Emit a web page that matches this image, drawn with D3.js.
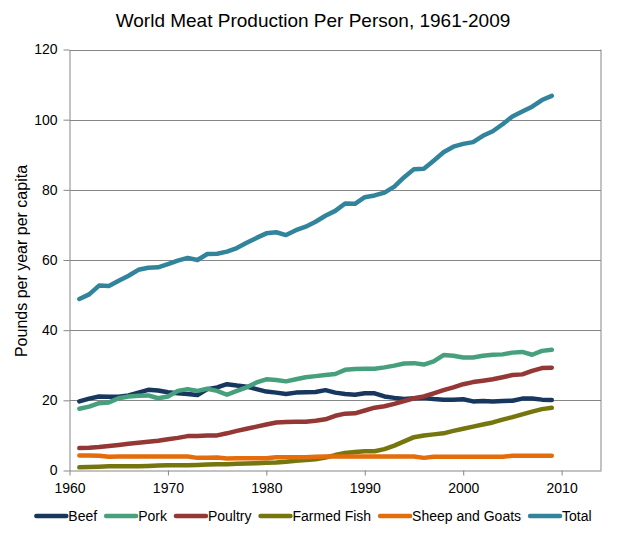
<!DOCTYPE html>
<html>
<head>
<meta charset="utf-8">
<script src="https://cdn.jsdelivr.net/npm/d3@7"></script>
<style>
	body { margin: 0; background: #fff; }
	svg { display: block; font-family: 'Liberation Sans', Arial, sans-serif; }
	.grid line { stroke: #868686; stroke-width: 1; }
	.axis path, .axis line { stroke: #868686; }
	.axis text { fill: #000; font-size: 14px; font-family: 'Liberation Sans', Arial, sans-serif; }
	.series { fill: none; stroke-width: 4.5; stroke-linejoin: round; stroke-linecap: round; }
</style>
</head>
<body>
<svg id="chart" width="624" height="535"></svg>
<script>
var years = [1961, 1962, 1963, 1964, 1965, 1966, 1967, 1968, 1969, 1970,
	1971, 1972, 1973, 1974, 1975, 1976, 1977, 1978, 1979, 1980,
	1981, 1982, 1983, 1984, 1985, 1986, 1987, 1988, 1989, 1990,
	1991, 1992, 1993, 1994, 1995, 1996, 1997, 1998, 1999, 2000,
	2001, 2002, 2003, 2004, 2005, 2006, 2007, 2008, 2009];

var beef = [19.7, 20.5, 21.1, 21.0, 21.0, 21.4, 22.2, 23.0, 22.8, 22.3,
	22.0, 21.8, 21.5, 23.2, 23.7, 24.6, 24.2, 23.9, 23.2, 22.5,
	22.2, 21.8, 22.2, 22.3, 22.4, 22.9, 22.2, 21.8, 21.6, 22.0,
	22.0, 21.1, 20.7, 20.4, 20.6, 20.7, 20.4, 20.2, 20.2, 20.3,
	19.7, 19.8, 19.7, 19.8, 19.9, 20.5, 20.5, 20.2, 20.1];

var pork = [17.6, 18.2, 19.2, 19.4, 20.6, 21.1, 21.3, 21.4, 20.6, 21.1,
	22.7, 23.2, 22.7, 23.3, 22.7, 21.6, 22.7, 23.7, 25.1, 26.0,
	25.8, 25.4, 26.0, 26.6, 26.9, 27.2, 27.5, 28.7, 28.9, 29.0,
	29.0, 29.4, 29.9, 30.5, 30.6, 30.2, 31.1, 32.9, 32.7, 32.2,
	32.2, 32.7, 33.0, 33.1, 33.6, 33.8, 33.0, 34.1, 34.4];

var poultry = [6.4, 6.5, 6.7, 7.0, 7.3, 7.6, 7.9, 8.2, 8.5, 8.9,
	9.3, 9.8, 9.8, 10.0, 10.0, 10.6, 11.3, 11.9, 12.5, 13.1,
	13.7, 13.8, 13.9, 13.9, 14.2, 14.6, 15.6, 16.2, 16.3, 17.1,
	17.9, 18.3, 19.0, 19.8, 20.6, 21.1, 22.0, 22.9, 23.7, 24.6,
	25.2, 25.6, 26.0, 26.6, 27.2, 27.4, 28.4, 29.2, 29.3];

var farmedFish = [0.9, 1.0, 1.1, 1.2, 1.2, 1.2, 1.2, 1.3, 1.4, 1.5,
	1.5, 1.5, 1.6, 1.7, 1.8, 1.8, 1.9, 2.0, 2.1, 2.2,
	2.3, 2.5, 2.8, 3.0, 3.2, 3.7, 4.4, 5.0, 5.3, 5.5,
	5.5, 6.1, 7.1, 8.3, 9.5, 10.0, 10.3, 10.6, 11.3, 11.9,
	12.5, 13.1, 13.7, 14.5, 15.2, 16.0, 16.8, 17.5, 17.9];

var sheepGoats = [4.3, 4.3, 4.2, 3.9, 4.0, 4.0, 4.0, 4.0, 4.0, 4.0,
	4.0, 4.0, 3.6, 3.6, 3.7, 3.4, 3.5, 3.5, 3.5, 3.5,
	3.8, 3.8, 3.8, 3.8, 3.9, 4.0, 4.0, 4.0, 4.0, 4.0,
	4.0, 4.0, 4.0, 4.0, 4.0, 3.6, 3.9, 3.9, 3.9, 3.9,
	3.9, 3.9, 3.9, 3.9, 4.2, 4.2, 4.2, 4.2, 4.2];

var total = [48.9, 50.2, 52.7, 52.6, 54.1, 55.5, 57.2, 57.8, 57.9, 58.8,
	59.8, 60.6, 60.0, 61.7, 61.8, 62.4, 63.4, 64.9, 66.3, 67.6,
	67.9, 67.1, 68.5, 69.5, 70.9, 72.6, 74.0, 76.1, 76.0, 77.9,
	78.4, 79.2, 80.9, 83.6, 85.9, 86.0, 88.3, 90.7, 92.3, 93.1,
	93.6, 95.4, 96.7, 98.7, 100.9, 102.3, 103.7, 105.6, 106.8];

var seriesNames = ['Beef', 'Pork', 'Poultry', 'Farmed Fish', 'Sheep and Goats', 'Total'];
var seriesValues = [beef, pork, poultry, farmedFish, sheepGoats, total];
var seriesColors = ['#17375e', '#47a07d', '#953735', '#76760f', '#e46c0a', '#31849b'];

var xTicks = [1960, 1970, 1980, 1990, 2000, 2010];
var yTicks = [0, 20, 40, 60, 80, 100, 120];

var chartTitle = 'World Meat Production Per Person, 1961-2009';
var yTitle = 'Pounds per year per capita';

var plot = {left: 69.5, right: 601, top: 49.5, bottom: 470.5};

var svg = d3.select('#chart');

var x = d3.scaleLinear().domain([1960, 2014]).range([plot.left, plot.right]);
var y = d3.scaleLinear().domain([0, 120]).range([plot.bottom, plot.top]);

//horizontal gridlines
svg.append('g')
	.attr('class', 'grid')
	.selectAll('line')
	.data(yTicks.slice(1))
	.enter().append('line')
	.attr('x1', plot.left)
	.attr('x2', plot.right)
	.attr('y1', function(d) { return Math.round(y(d)) + 0.5; })
	.attr('y2', function(d) { return Math.round(y(d)) + 0.5; });

//right edge of the plot area
svg.append('line')
	.attr('x1', plot.right).attr('x2', plot.right)
	.attr('y1', plot.top).attr('y2', plot.bottom)
	.style('stroke', '#868686');

//axes
var xAxis = svg.append('g')
	.attr('class', 'axis')
	.attr('transform', 'translate(0,' + plot.bottom + ')')
	.call(d3.axisBottom(x).tickValues(xTicks).tickFormat(d3.format('d')).tickSize(5).tickSizeOuter(0));
xAxis.selectAll('text').attr('dy', '1.05em');

var yAxis = svg.append('g')
	.attr('class', 'axis')
	.attr('transform', 'translate(' + plot.left + ',0)')
	.call(d3.axisLeft(y).tickValues(yTicks).tickSize(6).tickSizeOuter(0));
yAxis.selectAll('text').attr('x', -12);

//series lines, total drawn last
var line = d3.line()
	.x(function(d) { return x(d.year); })
	.y(function(d) { return y(d.value); });

seriesValues.forEach(function(values, i) {
	var points = years.map(function(yr, j) { return {year: yr, value: values[j]}; });
	svg.append('path')
		.datum(points)
		.attr('class', 'series')
		.attr('d', line)
		.style('stroke', seriesColors[i]);
});

//titles
svg.append('text')
	.attr('x', 313)
	.attr('y', 27)
	.attr('text-anchor', 'middle')
	.style('font-size', '19px')
	.text(chartTitle);

svg.append('text')
	.attr('transform', 'translate(27,261) rotate(-90)')
	.attr('text-anchor', 'middle')
	.style('font-size', '16px')
	.text(yTitle);

//legend, laid out from measured text widths and centered
var legend = svg.append('g').attr('class', 'legend');
var items = legend.selectAll('g')
	.data(seriesNames)
	.enter().append('g');

items.append('line')
	.attr('x1', 0).attr('x2', 30)
	.attr('y1', 0).attr('y2', 0)
	.style('stroke', function(d, i) { return seriesColors[i]; })
	.style('stroke-width', 4.5)
	.style('stroke-linecap', 'round');

items.append('text')
	.attr('x', 32)
	.attr('dy', '0.35em')
	.style('font-size', '14px')
	.text(function(d) { return d; });

var gap = 9;
var offset = 0;
items.each(function() {
	var g = d3.select(this);
	var w = 32 + g.select('text').node().getComputedTextLength();
	g.attr('transform', 'translate(' + offset + ',0)');
	offset += w + gap;
});
offset -= gap;
legend.attr('transform', 'translate(' + (314 - offset / 2) + ',516)');
</script>
</body>
</html>
